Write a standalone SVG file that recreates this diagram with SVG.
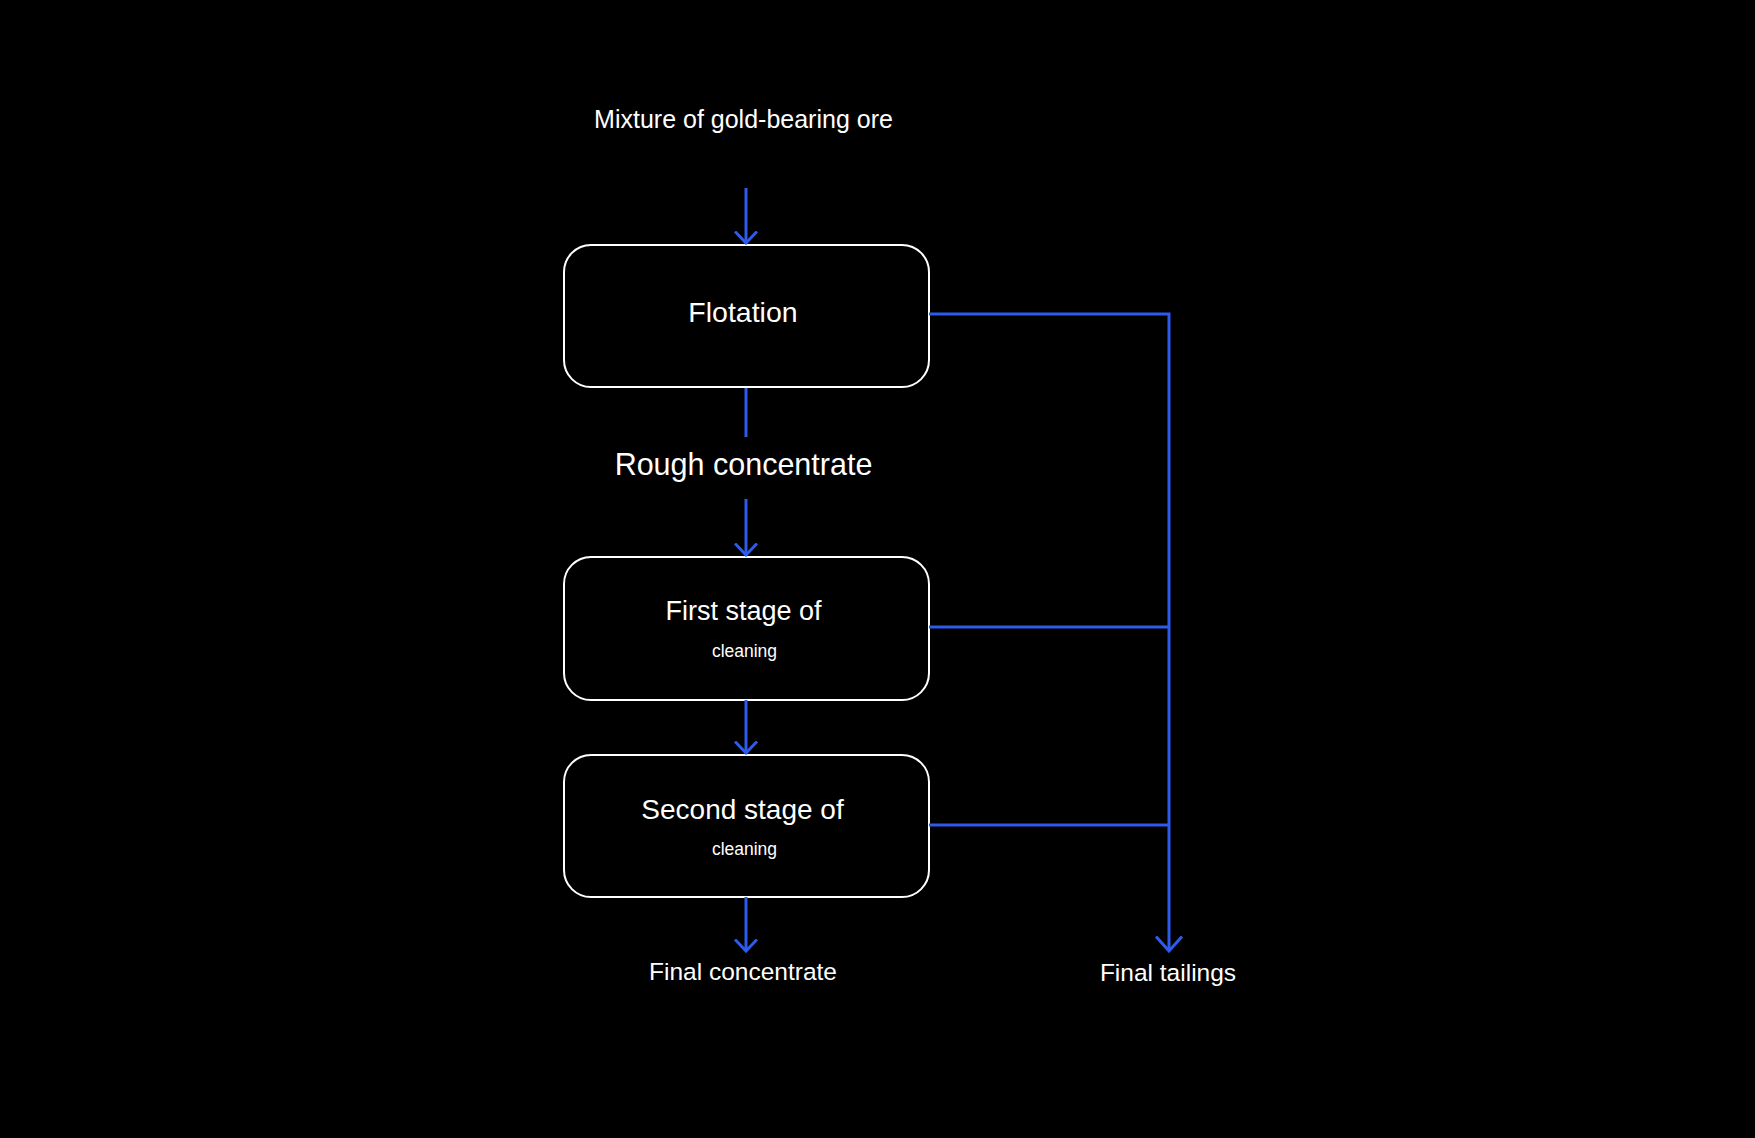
<svg xmlns="http://www.w3.org/2000/svg" width="1755" height="1138" viewBox="0 0 1755 1138">
<defs>
<style>
.bg{fill:#000}
.box{fill:#000;stroke:#fff;stroke-width:2}
.t{fill:#fff;font-family:"Liberation Sans",Arial,sans-serif;text-anchor:middle}
.c{fill:none;stroke:#2d5bec;stroke-width:3;stroke-linejoin:miter}
</style>
<marker id="ah" viewBox="0 0 14 24" refX="12.5" refY="12" markerWidth="14" markerHeight="24" markerUnits="userSpaceOnUse" orient="auto">
<path d="M1,1 L12.5,12 L1,23" fill="none" stroke="#2d5bec" stroke-width="3"/>
</marker>
<marker id="ahL" viewBox="0 0 17 30" refX="15.5" refY="15" markerWidth="17" markerHeight="30" markerUnits="userSpaceOnUse" orient="auto">
<path d="M1,2 L15.5,15 L1,28" fill="none" stroke="#2d5bec" stroke-width="3"/>
</marker>
</defs>
<rect class="bg" x="0" y="0" width="1755" height="1138"/>
<text class="t" x="743.5" y="128" font-size="25">Mixture of gold-bearing ore</text>
<g id="flotation">
<rect class="box" x="564" y="245" width="365" height="142" rx="27"/>
<text class="t" x="743" y="322" font-size="28.5">Flotation</text>
</g>
<text class="t" x="743.5" y="475" font-size="30.5">Rough concentrate</text>
<g id="first-stage">
<rect class="box" x="564" y="557" width="365" height="143" rx="27"/>
<text class="t" x="743.5" y="620" font-size="27">First stage of</text>
<text class="t" x="744.5" y="657" font-size="17.5">cleaning</text>
</g>
<g id="second-stage">
<rect class="box" x="564" y="755" width="365" height="142" rx="27"/>
<text class="t" x="742.5" y="819" font-size="28">Second stage of</text>
<text class="t" x="744.5" y="855" font-size="17.5">cleaning</text>
</g>
<text class="t" x="743" y="980" font-size="24.5">Final concentrate</text>
<text class="t" x="1168" y="981" font-size="24.5">Final tailings</text>
<g id="connectors">
<line class="c" x1="746" y1="188" x2="746" y2="243" marker-end="url(#ah)"/>
<line class="c" x1="746" y1="388" x2="746" y2="437"/>
<line class="c" x1="746" y1="499" x2="746" y2="555" marker-end="url(#ah)"/>
<line class="c" x1="746" y1="700" x2="746" y2="753" marker-end="url(#ah)"/>
<line class="c" x1="746" y1="897" x2="746" y2="951" marker-end="url(#ah)"/>
<polyline class="c" points="929,314 1169,314 1169,951" marker-end="url(#ahL)"/>
<line class="c" x1="929" y1="627" x2="1169" y2="627"/>
<line class="c" x1="929" y1="825" x2="1169" y2="825"/>
</g>
</svg>
